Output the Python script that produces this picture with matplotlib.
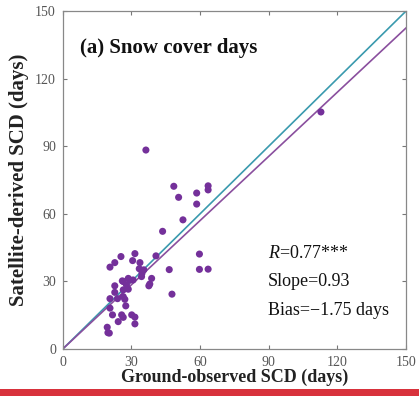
import matplotlib
matplotlib.use("Agg")
import matplotlib.pyplot as plt
from matplotlib.patches import Rectangle
import numpy as np

plt.rcParams['font.family'] = ['Liberation Serif', 'DejaVu Serif']
plt.rcParams['mathtext.fontset'] = 'custom'
plt.rcParams['mathtext.rm'] = 'Liberation Serif'
plt.rcParams['mathtext.it'] = 'Liberation Serif:italic'

# Ground-observed SCD (days)
ground = [48.5, 50.6, 58.5, 58.5, 63.5, 63.5, 52.5, 43.6, 40.7, 46.5, 47.7,
          59.7, 59.7, 63.5, 36.3, 112.8,
          20.6, 22.7, 25.4, 31.5, 30.5, 33.7, 33.4, 35.4, 34.6, 34.4,
          38.8, 38.0, 37.6, 30.7, 28.6, 26.4, 22.7, 22.7, 26.4, 28.6,
          20.6, 23.9, 26.4, 27.1, 27.5, 20.6, 21.7, 25.7, 26.4, 24.2,
          30.1, 31.5, 31.5, 19.4, 19.7, 20.3, 26.0, 27.8, 29.3]
# Satellite-derived SCD (days)
satellite = [72.2, 67.3, 69.2, 64.3, 72.4, 70.6, 57.3, 52.2, 41.3, 35.2, 24.3,
             42.1, 35.3, 35.4, 88.3, 105.2,
             36.3, 38.3, 41.0, 42.3, 39.2, 38.3, 35.6, 35.1, 33.6, 32.1,
             31.3, 28.8, 28.0, 30.6, 31.3, 29.9, 28.0, 25.1, 26.2, 26.5,
             22.3, 22.3, 23.2, 22.0, 19.1, 18.1, 15.1, 15.1, 14.0, 12.1,
             15.1, 14.1, 11.1, 9.6, 7.2, 7.0, 30.2, 28.4, 30.5]

fit_slope = 0.95
axis_max = 150
ticks = [0, 30, 60, 90, 120, 150]
title = "(a) Snow cover days"
stats = [r"$\it{R}$=0.77***", "Slope=0.93", "Bias=\u22121.75 days"]

fig = plt.figure(figsize=(4.19, 3.96), dpi=100)
ax = fig.add_axes([0.150, 0.119, 0.819, 0.853])

ax.plot([0, axis_max], [0, axis_max], color='#3a9aae', lw=1.2, zorder=2)
ax.plot([0, axis_max], [0, fit_slope * axis_max], color='#8a4f9e', lw=1.2, zorder=2)
ax.scatter(ground, satellite, s=26, color='#74309a', edgecolors='none', zorder=3)

ax.set_xlim(0, axis_max)
ax.set_ylim(0, axis_max)
ax.set_xticks(ticks)
ax.set_yticks(ticks)
ax.tick_params(direction='in', top=True, right=True, length=3, width=0.8,
               colors='#777777', labelcolor='#555555', labelsize=10, pad=5)
for s in ax.spines.values():
    s.set_color('#888888')
    s.set_linewidth(0.9)

ax.set_xlabel("Ground-observed SCD (days)", fontsize=13, fontweight='bold',
              color='#222222', labelpad=0)
ax.set_ylabel("Satellite-derived SCD (days)", fontsize=15, fontweight='bold',
              color='#222222', labelpad=4)

ax.text(7.4, 133.5, title, fontsize=15, fontweight='bold', va='center',
        ha='left', color='#111111')
for i, t in enumerate(stats):
    ax.text(89.5, 42.5 - i * 12.8, t, fontsize=13, va='center', ha='left',
            color='#111111')

fig.patches.append(Rectangle((0, 0), 1, 7.5 / 396, transform=fig.transFigure,
                             facecolor='#d8323c', edgecolor='none'))

fig.savefig("out.png", dpi=100)
